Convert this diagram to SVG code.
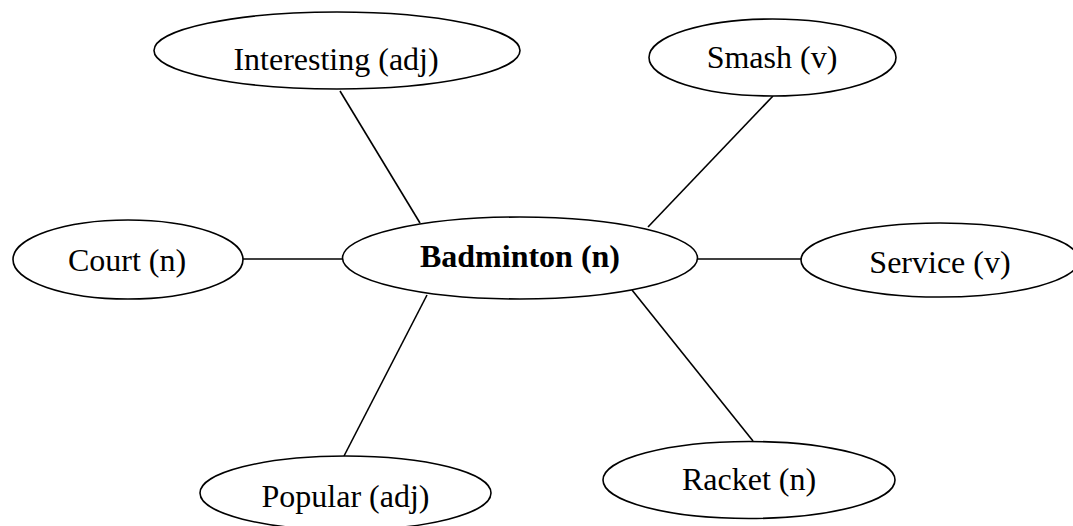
<svg xmlns="http://www.w3.org/2000/svg" width="1073" height="526" viewBox="0 0 1073 526">
<style>
.n{fill:#fff;stroke:#000;stroke-width:1.6}
.c line{stroke:#000;stroke-width:1.6}
text{font-family:"Liberation Serif","Times New Roman",serif;font-size:32px;text-anchor:middle;fill:#000}
.b{font-weight:bold}
</style>
<rect width="1073" height="526" fill="#fff"/>
<g class="c" id="connectors">
<line x1="340" y1="91" x2="420" y2="223"/>
<line x1="773" y1="96" x2="648" y2="227"/>
<line x1="243" y1="259" x2="343" y2="259"/>
<line x1="697" y1="259" x2="801" y2="259"/>
<line x1="427" y1="295" x2="344" y2="456"/>
<line x1="632" y1="290" x2="753" y2="441"/>
</g>
<g id="interesting"><ellipse class="n" cx="337" cy="50.5" rx="183" ry="38.5"/><text x="336" y="70">Interesting (adj)</text></g>
<g id="smash"><ellipse class="n" cx="772.5" cy="57.5" rx="123.5" ry="38.5"/><text x="772" y="68">Smash (v)</text></g>
<g id="court"><ellipse class="n" cx="128" cy="259.5" rx="115" ry="39.5"/><text x="127" y="271">Court (n)</text></g>
<g id="badminton"><ellipse class="n" cx="520" cy="258" rx="177.5" ry="41"/><text class="b" x="520" y="267">Badminton (n)</text></g>
<g id="service"><ellipse class="n" cx="940" cy="260" rx="139" ry="37"/><text x="940" y="273">Service (v)</text></g>
<g id="popular"><ellipse class="n" cx="345.5" cy="493" rx="145.5" ry="37"/><text x="345.5" y="507">Popular (adj)</text></g>
<g id="racket"><ellipse class="n" cx="749" cy="480" rx="146" ry="38.5"/><text x="749" y="490">Racket (n)</text></g>
</svg>
